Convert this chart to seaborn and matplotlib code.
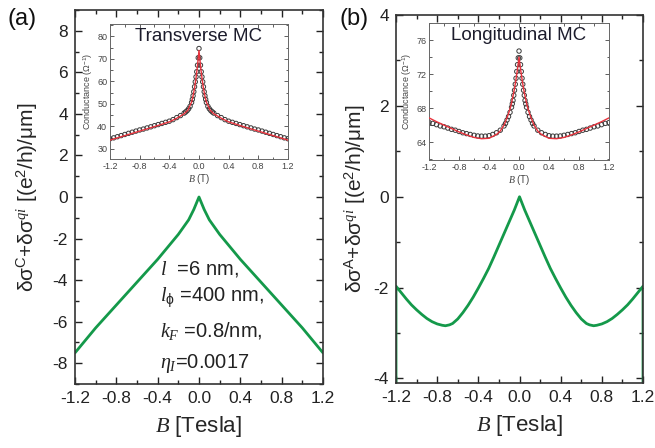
import numpy as np
import pandas as pd
import matplotlib
matplotlib.use("Agg")
import matplotlib.pyplot as plt
from matplotlib.ticker import MultipleLocator, FuncFormatter
import seaborn as sns

# ---- main panels: delta sigma vs B ----
B_a = [-1.2, -1.1, -1.0, -0.9, -0.8, -0.7, -0.6, -0.5, -0.4, -0.3, -0.2, -0.1, -0.05,
       0.0, 0.05, 0.1, 0.2, 0.3, 0.4, 0.5, 0.6, 0.7, 0.8, 0.9, 1.0, 1.1, 1.2]
dsig_a = [-7.5, -6.9, -6.3, -5.75, -5.2, -4.65, -4.1, -3.55, -3.0, -2.4, -1.8, -1.1, -0.6,
          0.0, -0.6, -1.1, -1.8, -2.4, -3.0, -3.55, -4.1, -4.65, -5.2, -5.75, -6.3, -6.9, -7.5]

B_b = [-1.2, -1.2, -1.15, -1.1, -1.05, -1.0, -0.95, -0.9, -0.85, -0.8, -0.75, -0.72, -0.68, -0.65,
       -0.6, -0.55, -0.5, -0.45, -0.4, -0.35, -0.3, -0.25, -0.2, -0.15, -0.1, -0.05, 0.0,
       0.05, 0.1, 0.15, 0.2, 0.25, 0.3, 0.35, 0.4, 0.45, 0.5, 0.55, 0.6, 0.65, 0.68, 0.72, 0.75,
       0.8, 0.85, 0.9, 0.95, 1.0, 1.05, 1.1, 1.15, 1.2, 1.2]
dsig_b = [-4.5, -1.97, -2.11, -2.25, -2.38, -2.49, -2.59, -2.68, -2.75, -2.80, -2.83, -2.84, -2.82, -2.79,
          -2.69, -2.55, -2.39, -2.21, -2.01, -1.8, -1.58, -1.33, -1.07, -0.81, -0.55, -0.29, 0.0,
          -0.29, -0.55, -0.81, -1.07, -1.33, -1.58, -1.8, -2.01, -2.21, -2.39, -2.55, -2.69, -2.79, -2.82, -2.84, -2.83,
          -2.80, -2.75, -2.68, -2.59, -2.49, -2.38, -2.25, -2.11, -1.97, -4.5]

# ---- insets: measured conductance (circles, one half, mirrored) and fits ----
Bc_half = [0.0, 0.01, 0.02, 0.03, 0.04, 0.05, 0.06, 0.07, 0.08, 0.09, 0.10, 0.12, 0.14, 0.16,
           0.18, 0.20, 0.25, 0.30, 0.35, 0.40, 0.45, 0.50, 0.55, 0.60, 0.65, 0.70, 0.75, 0.80,
           0.85, 0.90, 0.95, 1.00, 1.05, 1.10, 1.15, 1.20]
G_trans = [74.6, 70.5, 67.2, 64.3, 62.0, 59.8, 57.6, 55.4, 53.6, 52.0, 50.6, 48.9, 47.8, 47.0,
           46.4, 45.9, 44.8, 43.9, 43.0, 42.3, 41.8, 41.3, 40.8, 40.3, 39.8, 39.3, 38.8, 38.4,
           37.9, 37.4, 36.9, 36.4, 35.9, 35.4, 34.9, 34.5]
G_long = [74.7, 73.9, 73.1, 72.3, 71.5, 70.8, 70.1, 69.5, 68.9, 68.5, 68.1, 67.5, 67.0, 66.6,
          66.2, 65.9, 65.4, 65.1, 64.9, 64.75, 64.7, 64.7, 64.72, 64.8, 64.9, 65.0, 65.1, 65.25,
          65.4, 65.5, 65.65, 65.8, 65.9, 66.05, 66.2, 66.3]

Bf_trans = [0.0, 0.02, 0.04, 0.06, 0.08, 0.10, 0.15, 0.20, 0.30, 0.40, 0.60, 0.80, 1.0, 1.2]
fit_trans = [73.8, 67.0, 61.5, 57.0, 53.5, 50.8, 47.2, 45.6, 43.6, 42.0, 39.9, 37.9, 35.9, 33.9]
Bf_long = [0.0, 0.02, 0.04, 0.06, 0.08, 0.10, 0.12, 0.15, 0.20, 0.25, 0.30, 0.40, 0.50, 0.60,
           0.70, 0.80, 0.90, 1.0, 1.1, 1.2]
fit_long = [74.0, 72.6, 71.4, 70.3, 69.4, 68.6, 67.9, 67.1, 66.0, 65.3, 64.9, 64.45, 64.4, 64.55,
            64.85, 65.2, 65.6, 66.0, 66.4, 66.85]


def mirror(b, v):
    b = np.asarray(b)
    v = np.asarray(v)
    return np.concatenate([-b[::-1], b[1:]]), np.concatenate([v[::-1], v[1:]])


fmt1 = FuncFormatter(lambda x, pos: f"{round(x, 1) + 0.0:.1f}")
fmt0 = FuncFormatter(lambda x, pos: f"{int(round(x))}")

sns.set_theme(style="ticks")
plt.rcParams["font.family"] = ["Liberation Sans", "DejaVu Sans"]
plt.rcParams["mathtext.fontset"] = "custom"
plt.rcParams["mathtext.rm"] = "Liberation Sans"
plt.rcParams["mathtext.it"] = "Liberation Serif:italic"
plt.rcParams["mathtext.bf"] = "Liberation Sans:bold"

green = "#14994a"
fig = plt.figure(figsize=(6.55, 4.48), dpi=100)
ax_a = fig.add_axes([0.1145, 0.1429, 0.3786, 0.8348])
ax_b = fig.add_axes([0.6046, 0.1451, 0.3771, 0.8214])


def style_main(ax, ymaj):
    ax.set_xlim(-1.2, 1.2)
    ax.xaxis.set_major_locator(MultipleLocator(0.4))
    ax.xaxis.set_minor_locator(MultipleLocator(0.2))
    ax.xaxis.set_major_formatter(fmt1)
    ax.yaxis.set_major_locator(MultipleLocator(ymaj))
    ax.yaxis.set_minor_locator(MultipleLocator(ymaj / 2))
    ax.yaxis.set_major_formatter(fmt0)
    ax.tick_params(which="both", direction="in", top=True, right=True, labelsize=12.5,
                   colors="#222222", width=1.0, pad=5)
    ax.tick_params(which="major", length=5)
    ax.tick_params(which="minor", length=3)
    for s in ax.spines.values():
        s.set_color("#333333")
        s.set_linewidth(1.2)
    ax.set_xlabel("$B$ [Tesla]", fontsize=16, labelpad=6)


df_a = pd.DataFrame({"B": B_a, "d": dsig_a})
sns.lineplot(data=df_a, x="B", y="d", ax=ax_a, color=green, lw=2.0, estimator=None, sort=False)
ax_a.set_ylim(-9, 9)
style_main(ax_a, 2)
ax_a.set_ylabel("δσ$^{\\mathrm{C}}$+δσ$^{qi}$ [(e$^2$/h)/μm]", fontsize=15, labelpad=9)

df_b = pd.DataFrame({"B": B_b, "d": dsig_b})
sns.lineplot(data=df_b, x="B", y="d", ax=ax_b, color=green, lw=2.0, estimator=None, sort=False)
ax_b.set_ylim(-4.1, 4.0)
style_main(ax_b, 2)
ax_b.set_ylabel("δσ$^{\\mathrm{A}}$+δσ$^{qi}$ [(e$^2$/h)/μm]", fontsize=15, labelpad=4)

fig.text(0.012, 0.945, "(a)", fontsize=17, color="#111111")
fig.text(0.519, 0.945, "(b)", fontsize=17, color="#111111")

# parameter annotations in panel (a)
params = ["$l$  =6 nm,", "$l_{\\mathrm{\\phi}}$ =400 nm,", "$k_F$ =0.8/nm,", "$\\eta_I$=0.0017"]
ys = [-3.75, -5.05, -6.75, -8.25]
for txt, yy in zip(params, ys):
    ax_a.text(-0.38, yy, txt, fontsize=14.5, color="#222222")

# ---- insets ----
def style_inset(ax, ylim, ymaj, title):
    ax.set_xlim(-1.2, 1.2)
    ax.set_ylim(*ylim)
    ax.xaxis.set_major_locator(MultipleLocator(0.4))
    ax.xaxis.set_minor_locator(MultipleLocator(0.2))
    ax.xaxis.set_major_formatter(fmt1)
    ax.yaxis.set_major_locator(MultipleLocator(ymaj))
    ax.yaxis.set_minor_locator(MultipleLocator(ymaj / 2))
    ax.yaxis.set_major_formatter(fmt0)
    ax.tick_params(which="both", direction="in", top=True, right=True, labelsize=6.5,
                   colors="#444444", width=0.6, pad=2)
    ax.tick_params(which="major", length=3)
    ax.tick_params(which="minor", length=1.8)
    for s in ax.spines.values():
        s.set_color("#666666")
        s.set_linewidth(0.7)
    ax.set_xlabel("$B$ (T)", fontsize=7, color="#444444", labelpad=1)
    ax.set_ylabel("Conductance (Ω$^{-1}$)", fontsize=6.5, color="#444444", labelpad=2)
    ax.text(0.5, 0.97, title, transform=ax.transAxes, ha="center", va="top",
            fontsize=13.5, color="#1c1c2c")


in_a = fig.add_axes([0.1679, 0.6451, 0.2718, 0.3013])
in_b = fig.add_axes([0.6550, 0.6429, 0.2748, 0.3058])

for ax, gdat, bfit, gfit, ylim, ymaj, title in [
        (in_a, G_trans, Bf_trans, fit_trans, (25.5, 85.5), 10, "Transverse MC"),
        (in_b, G_long, Bf_long, fit_long, (61.9, 78.0), 4, "Longitudinal MC")]:
    bx, gx = mirror(Bc_half, gdat)
    fx, fy = mirror(bfit, gfit)
    sns.scatterplot(x=bx, y=gx, ax=ax, marker="o", s=10, facecolor="none",
                    edgecolor="#3a3a3a", linewidth=0.7, zorder=2)
    sns.lineplot(x=fx, y=fy, ax=ax, color="#e8323c", lw=1.0, estimator=None, sort=False, zorder=3)
    style_inset(ax, ylim, ymaj, title)

fig.savefig("out.png", dpi=100)
